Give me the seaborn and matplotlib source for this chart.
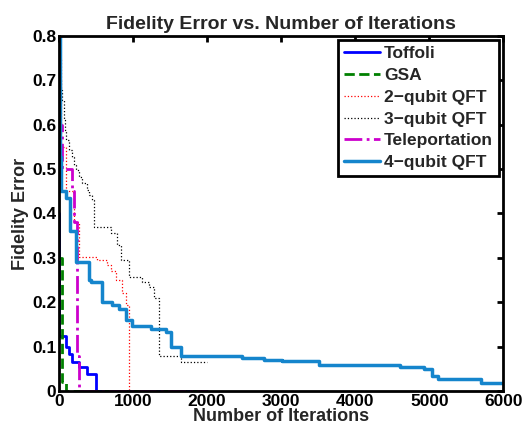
import matplotlib
matplotlib.use('Agg')
import matplotlib.pyplot as plt
import seaborn as sns
import pandas as pd

# Step curves (iteration where the value changes, new value)
toffoli_x = [0, 5, 95, 135, 175, 270, 380, 500, 2000]
toffoli_y = [0.40, 0.123, 0.099, 0.083, 0.065, 0.054, 0.038, 0.0, 0.0]

gsa_x = [0, 40, 100, 2000]
gsa_y = [0.30, 0.02, 0.0, 0.0]

qft2_x = [0, 30, 100, 200, 270, 510, 650, 700, 770, 850, 905, 945, 2000]
qft2_y = [0.75, 0.55, 0.45, 0.38, 0.303, 0.296, 0.285, 0.27, 0.25, 0.22, 0.195, 0.0, 0.0]

qft3_x = [0, 15, 27, 45, 68, 80, 95, 135, 175, 200, 230, 270, 310, 380, 405, 445,
          475, 700, 785, 840, 945, 1120, 1215, 1285, 1350, 1650, 2000]
qft3_y = [0.80, 0.70, 0.677, 0.655, 0.61, 0.587, 0.565, 0.543, 0.527, 0.51, 0.498,
          0.482, 0.469, 0.453, 0.442, 0.43, 0.37, 0.357, 0.33, 0.296, 0.258, 0.245,
          0.235, 0.21, 0.078, 0.065, 0.065]

tele_x = [0, 20, 40, 175, 200, 245, 265, 2000]
tele_y = [0.75, 0.60, 0.50, 0.45, 0.38, 0.078, 0.0, 0.0]

qft4_x = [0, 10, 25, 95, 150, 230, 400, 430, 580, 720, 810, 905, 985, 1245, 1445,
          1515, 1650, 2470, 2770, 3010, 3510, 4600, 4930, 5040, 5120, 5700, 6000]
qft4_y = [0.80, 0.527, 0.45, 0.435, 0.36, 0.29, 0.25, 0.245, 0.20, 0.195, 0.185,
          0.161, 0.146, 0.139, 0.132, 0.099, 0.078, 0.074, 0.070, 0.067, 0.058,
          0.054, 0.049, 0.034, 0.027, 0.018, 0.018]

series = [
    ('Toffoli', toffoli_x, toffoli_y, '#0000ff', '-', 2.0),
    ('GSA', gsa_x, gsa_y, '#008000', '--', 2.0),
    ('2\u2212qubit QFT', qft2_x, qft2_y, '#ff0000', ':', 0.9),
    ('3\u2212qubit QFT', qft3_x, qft3_y, '#000000', ':', 0.9),
    ('Teleportation', tele_x, tele_y, '#cc00cc', '-.', 2.0),
    ('4\u2212qubit QFT', qft4_x, qft4_y, '#1585cc', '-', 2.5),
]

sns.set_style('white')
plt.rcParams['font.family'] = ['Liberation Sans', 'DejaVu Sans']
plt.rcParams['font.weight'] = 'bold'

fig = plt.figure(figsize=(5.26, 4.37), dpi=100)
ax = fig.add_axes([0.112, 0.105, 0.845, 0.813])

for name, xs, ys, color, ls, lw in series:
    df = pd.DataFrame({'iter': xs, 'err': ys})
    sns.lineplot(data=df, x='iter', y='err', ax=ax, drawstyle='steps-post',
                 color=color, linestyle=ls, linewidth=lw, label=name,
                 estimator=None, sort=False)

ax.set_xlim(0, 6000)
ax.set_ylim(0, 0.8)
ax.set_xticks(range(0, 6001, 1000))
ax.set_yticks([i / 10 for i in range(9)])
ax.set_yticklabels(['0'] + [f'{i / 10:.1f}' for i in range(1, 9)])
ax.tick_params(direction='in', top=True, right=True, length=4, width=2,
               labelsize=12.5, pad=2, colors='black')
for lab in ax.get_xticklabels() + ax.get_yticklabels():
    lab.set_fontweight('bold')
for sp in ax.spines.values():
    sp.set_linewidth(2)
    sp.set_color('black')

ax.set_title('Fidelity Error vs. Number of Iterations', fontsize=14,
             fontweight='bold', pad=5)
ax.set_xlabel('Number of Iterations', fontsize=13, fontweight='bold', labelpad=-1)
ax.set_ylabel('Fidelity Error', fontsize=13, fontweight='bold', labelpad=2)

leg = ax.legend(loc='upper right', fontsize=12.5, frameon=True, fancybox=False,
                edgecolor='black', framealpha=1, handlelength=2.1,
                handletextpad=0.2, borderpad=0.35, labelspacing=0.38,
                borderaxespad=0.25)
leg.get_frame().set_linewidth(2)
for t in leg.get_texts():
    t.set_fontweight('bold')

fig.savefig('out.png', dpi=100)
